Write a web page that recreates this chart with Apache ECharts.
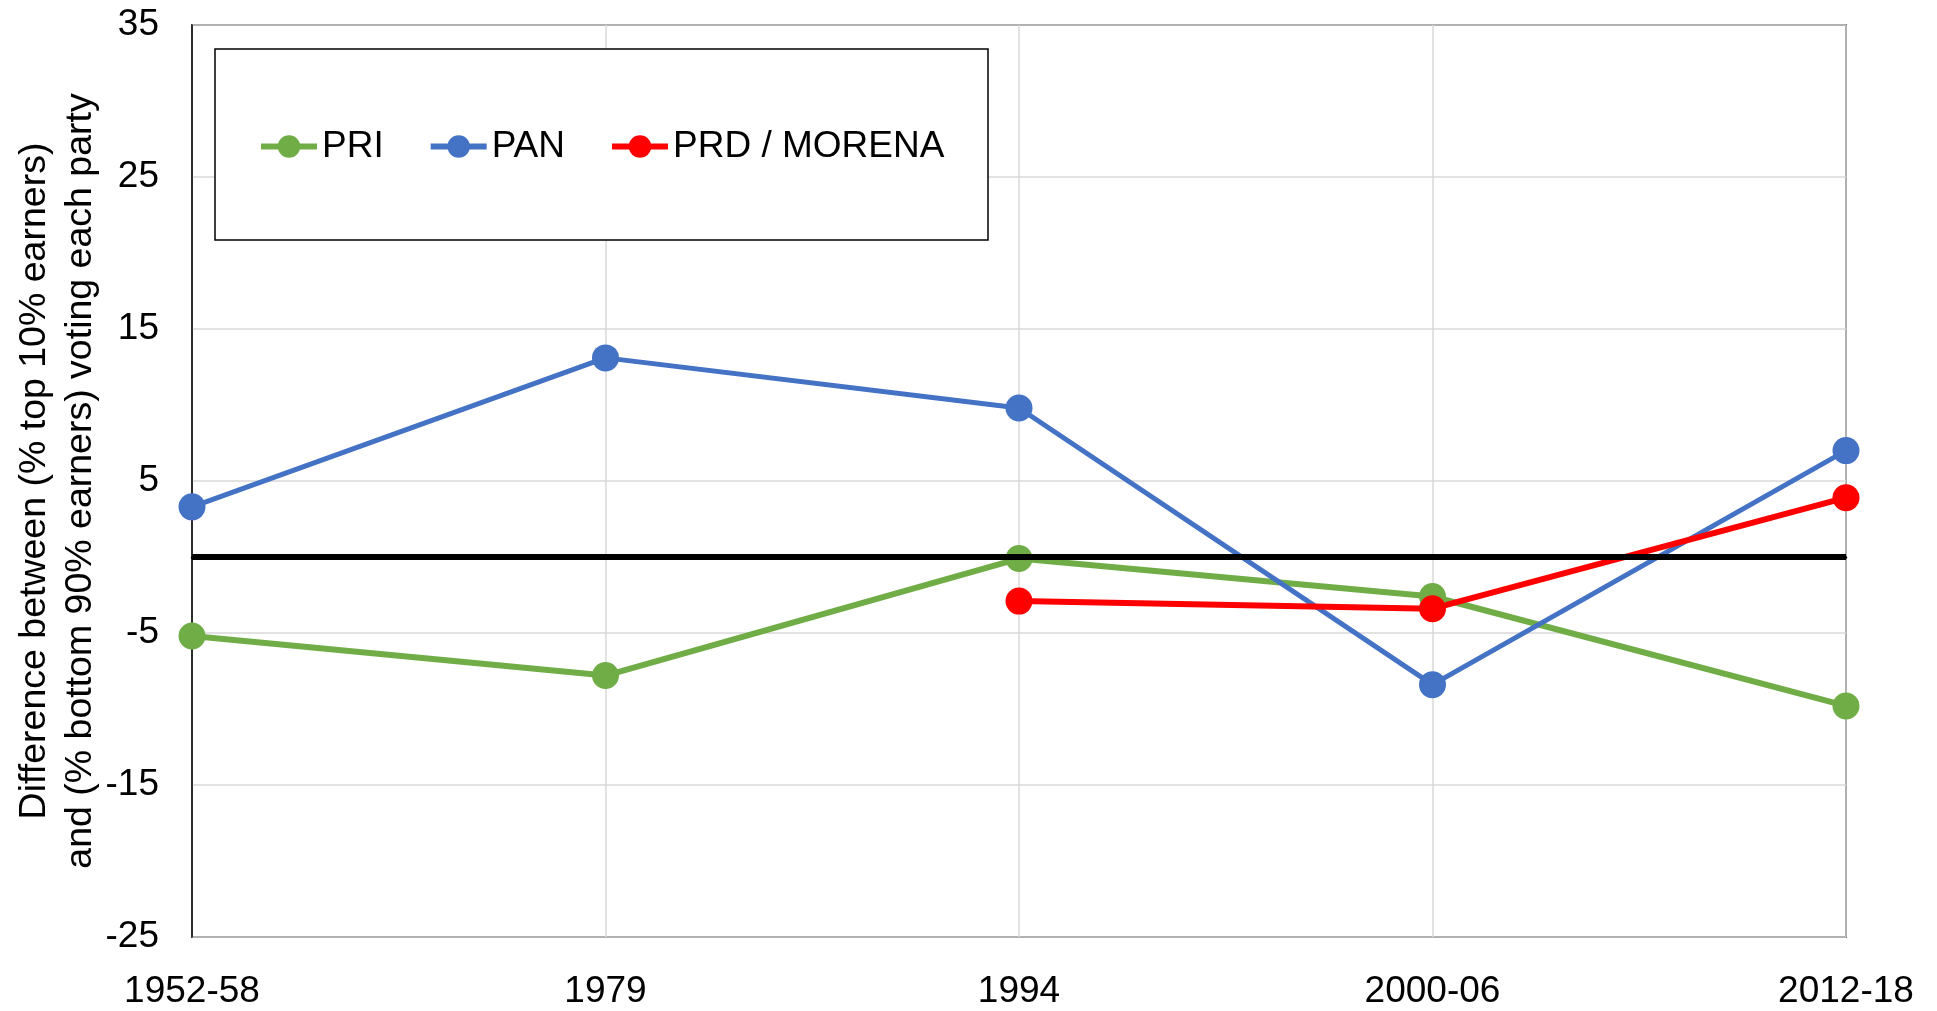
<!DOCTYPE html>
<html lang="en">
<head>
    <meta charset="utf-8"/>
    <title>Income voting gap by party, Mexico</title>
    <script src="https://cdn.jsdelivr.net/npm/echarts@6/dist/echarts.min.js"></script>
    <style>
        html, body { margin: 0; padding: 0; background: #fff; }
        #main { width: 1937px; height: 1011px; }
    </style>
</head>
<body>
<div id="main"></div>
<script>
    // data
    var periods = ['1952-58', '1979', '1994', '2000-06', '2012-18'];
    var priValues = [-5.2, -7.8, -0.1, -2.6, -9.8];
    var panValues = [3.3, 13.1, 9.8, -8.4, 7.0];
    var prdValues = [null, null, -2.9, -3.4, 3.9];
    var yTicks = [-25, -15, -5, 5, 15, 25, 35];
    var zeroLine = 0;

    var font = 'Liberation Sans, Arial, sans-serif';

    var myChart = echarts.init(document.getElementById('main'));

    function lineSeries(name, values, color, width) {
        return {
            name: name,
            type: 'line',
            data: values,
            symbol: 'circle',
            symbolSize: 27,
            connectNulls: false,
            itemStyle: {color: color},
            lineStyle: {color: color, width: width}
        };
    }

    var series = [
        lineSeries('PRI', priValues, '#70AD47', 6),
        lineSeries('PAN', panValues, '#4472C4', 5),
        lineSeries('PRD / MORENA', prdValues, '#FF0000', 6)
    ];
    // black zero line
    series[0].markLine = {
        silent: true,
        symbol: 'none',
        label: {show: false},
        lineStyle: {color: '#000', width: 6, type: 'solid'},
        data: [{yAxis: zeroLine}]
    };

    var option = {
        animation: false,
        backgroundColor: '#fff',
        textStyle: {fontFamily: font, color: '#000'},
        grid: {
            left: 192, right: 91, top: 25, bottom: 74,
            outerBoundsMode: 'none',
            containLabel: false,
            show: true, borderColor: '#000', borderWidth: 1.5
        },
        graphic: [{
            type: 'rect',
            z: 3,
            shape: {x: 215, y: 49, width: 773, height: 191},
            style: {fill: '#fff', stroke: '#000', lineWidth: 1.5}
        }],
        legend: {
            z: 5,
            left: 253,
            top: 123,
            itemWidth: 56,
            itemHeight: 28,
            itemGap: 44,
            lineStyle: {width: 6},
            textStyle: {fontSize: 37, fontFamily: font, color: '#000'},
            data: ['PRI', 'PAN', 'PRD / MORENA']
        },
        xAxis: {
            type: 'category',
            data: periods,
            boundaryGap: false,
            axisLine: {show: true, lineStyle: {color: '#000', width: 2.5}},
            axisTick: {show: false},
            axisLabel: {fontSize: 37, color: '#000', margin: 36, fontFamily: font},
            splitLine: {show: true, lineStyle: {color: '#d9d9d9', width: 1.5}}
        },
        yAxis: {
            type: 'value',
            min: yTicks[0],
            max: yTicks[yTicks.length - 1],
            interval: 10,
            name: 'Difference between (% top 10% earners)\nand (% bottom 90% earners) voting each party',
            nameLocation: 'middle',
            nameRotate: 90,
            nameGap: 88,
            nameMoveOverlap: false,
            nameTextStyle: {fontSize: 37.5, lineHeight: 46, color: '#000', fontFamily: font},
            axisLine: {show: true, lineStyle: {color: '#000', width: 1.5}},
            axisTick: {show: false},
            axisLabel: {fontSize: 37, color: '#000', margin: 33, fontFamily: font},
            splitLine: {show: true, lineStyle: {color: '#d9d9d9', width: 1.5}}
        },
        series: series
    };

    myChart.setOption(option);
</script>
</body>
</html>
